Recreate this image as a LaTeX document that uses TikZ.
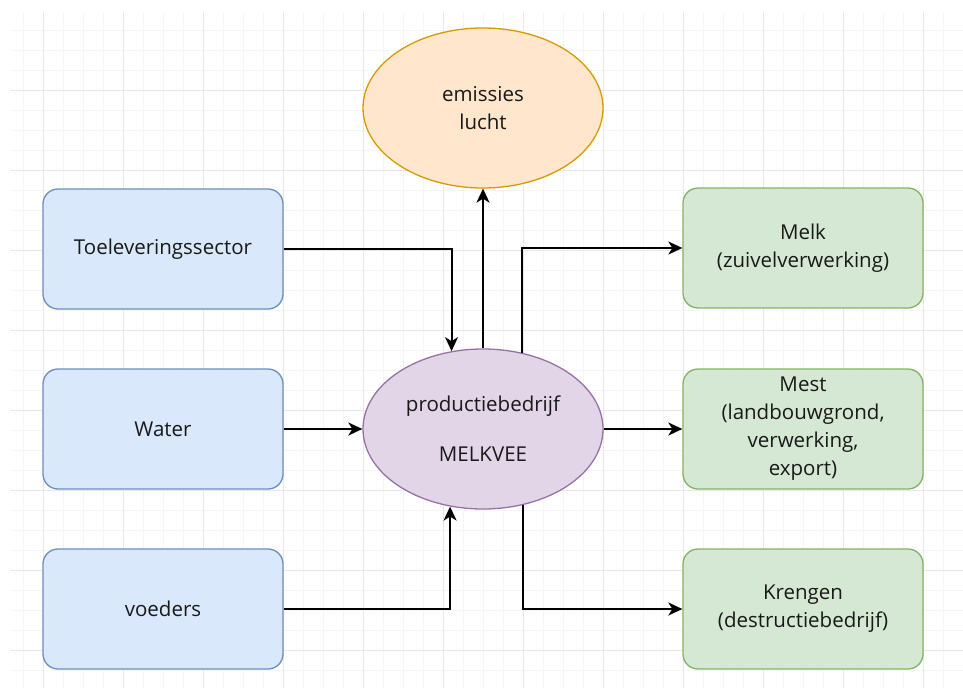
\documentclass[tikz,border=0pt]{standalone}
\usepackage{fontspec}
\setmainfont{Open Sans}
\usetikzlibrary{positioning,shapes.geometric,arrows.meta}

\definecolor{bluefill}{HTML}{DAE8FC}
\definecolor{bluedraw}{HTML}{6C8EBF}
\definecolor{greenfill}{HTML}{D5E8D4}
\definecolor{greendraw}{HTML}{82B366}
\definecolor{orangefill}{HTML}{FFE6CC}
\definecolor{orangedraw}{HTML}{D79B00}
\definecolor{purplefill}{HTML}{E1D5E7}
\definecolor{purpledraw}{HTML}{9673A6}
\definecolor{gridminor}{HTML}{F5F5F5}
\definecolor{gridmajor}{HTML}{E8E8E8}

\tikzset{
  txt/.style={align=center, inner sep=0pt, text=black!90,
    font=\fontsize{20.5}{28}\selectfont},
  inbox/.style={txt, draw=bluedraw, fill=bluefill, line width=1.3pt,
    rounded corners=15pt, minimum width=240pt, minimum height=120pt},
  outbox/.style={inbox, draw=greendraw, fill=greenfill},
  bubble/.style={txt, ellipse, line width=1.3pt,
    minimum width=240pt, minimum height=160pt},
  flow/.style={-{Stealth[length=14pt,width=13pt,inset=4pt]}, line width=2pt}
}

\begin{document}
\begin{tikzpicture}[x=1pt,y=-1pt]

\useasboundingbox (0,0) rectangle (963,688);

% grid
\begin{scope}
\clip (10,12) rectangle (963,688);
\foreach \x in {23,43,...,963} \draw[gridminor, line width=1pt] (\x,12) -- (\x,688);
\foreach \y in {30,50,...,688} \draw[gridminor, line width=1pt] (10,\y) -- (963,\y);
\foreach \x in {43,123,...,963} \draw[gridmajor, line width=1pt] (\x,12) -- (\x,688);
\foreach \y in {10,90,...,688} \draw[gridmajor, line width=1pt] (10,\y) -- (963,\y);
\end{scope}

\node [inbox] (toel) at (163,249) {Toeleveringssector};
\node [inbox] (water) at (163,429) {Water};
\node [inbox] (voeders) at (163,609) {voeders};

\node [bubble, draw=purpledraw, fill=purplefill] (melkvee) at (483,429) {productiebedrijf\\[22pt]MELKVEE};
\node [bubble, draw=orangedraw, fill=orangefill] (emissies) at (483,108) {emissies\\lucht};

\node [outbox] (melk) at (803,248) {Melk\\(zuivelverwerking)};
\node [outbox] (mest) at (803,429) {Mest\\(landbouwgrond,\\verwerking,\\export)};
\node [outbox] (krengen) at (803,609) {Krengen\\(destructiebedrijf)};

\draw[flow] (toel.east) -| (melkvee.112);
\draw[flow] (water.east) -- (melkvee.west);
\draw[flow] (voeders.east) -| (melkvee.247);

\draw[flow] (melkvee.north) -- (emissies.south);
\draw[flow] (melkvee.63) |- (melk.west);
\draw[flow] (melkvee.east) -- (mest.west);
\draw[flow] (melkvee.298) |- (krengen.west);

\end{tikzpicture}
\end{document}
